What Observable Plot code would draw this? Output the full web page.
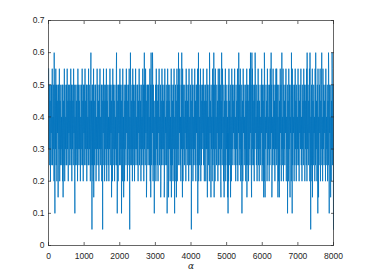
<!DOCTYPE html>
<html><head><meta charset="utf-8">
<script src="https://cdn.jsdelivr.net/npm/d3@7"></script>
<script src="https://cdn.jsdelivr.net/npm/@observablehq/plot@0.6"></script>
<style>body{margin:0;background:#fff;}</style>
</head><body><div id="chart"></div>
<script>
// x spacing of the base samples (data units)
const xStep = 10;
// base samples of the noisy series, read as the per-column envelope of the band
const baseValues = [
.55,.3,.5,.25,.45,.2,.5,.35,.5,.25,.55,.25,.4,.3,.5,.2,.45,.25,.5,.3,.55,.25,.5,.2,.45,.35,.5,.25,.5,.3,.55,.2,.45,.25,.5,.3,.4,.25,.5,.2,
.5,.3,.45,.25,.55,.2,.5,.3,.4,.25,.5,.25,.55,.3,.45,.2,.5,.35,.5,.25,.45,.3,.55,.25,.5,.2,.5,.3,.45,.25,.55,.35,.5,.2,.4,.25,.5,.3,.45,.25,
.5,.2,.55,.3,.5,.25,.45,.3,.5,.2,.4,.25,.5,.3,.55,.25,.45,.2,.5,.35,.5,.25,.55,.3,.45,.25,.5,.2,.5,.3,.4,.25,.55,.25,.5,.3,.45,.2,.5,.25,
.45,.3,.5,.25,.5,.2,.55,.35,.45,.25,.5,.3,.5,.2,.4,.25,.55,.3,.5,.25,.45,.2,.5,.3,.55,.25,.4,.3,.5,.2,.5,.25,.45,.35,.55,.25,.5,.2,.45,.3,
.5,.25,.55,.2,.45,.3,.5,.25,.4,.2,.5,.3,.55,.25,.5,.35,.45,.25,.5,.2,.55,.3,.5,.25,.45,.2,.5,.3,.4,.25,.55,.25,.5,.3,.45,.2,.5,.35,.5,.25,
.55,.25,.5,.3,.45,.25,.5,.2,.55,.3,.4,.25,.5,.2,.45,.3,.5,.25,.55,.35,.5,.2,.45,.25,.5,.3,.55,.2,.4,.25,.5,.3,.45,.25,.5,.2,.55,.3,.5,.25,
.45,.2,.5,.3,.55,.25,.4,.3,.5,.25,.5,.2,.45,.35,.55,.25,.5,.3,.45,.2,.5,.25,.4,.3,.55,.25,.5,.2,.45,.3,.5,.25,.55,.35,.45,.2,.5,.3,.5,.25,
.5,.3,.4,.25,.55,.2,.5,.3,.45,.25,.5,.35,.55,.2,.5,.25,.45,.3,.4,.25,.5,.2,.55,.3,.5,.25,.45,.2,.5,.35,.55,.25,.4,.3,.5,.2,.45,.25,.55,.3,
.5,.25,.45,.3,.5,.2,.55,.25,.4,.35,.5,.25,.45,.2,.55,.3,.5,.25,.45,.3,.5,.2,.4,.25,.55,.3,.5,.25,.45,.2,.5,.3,.55,.25,.4,.2,.5,.3,.45,.25,
.55,.2,.5,.3,.45,.25,.5,.35,.55,.25,.4,.2,.5,.3,.45,.25,.55,.2,.5,.3,.4,.25,.5,.35,.45,.2,.55,.3,.5,.25,.45,.3,.5,.2,.55,.25,.4,.3,.5,.25,
.45,.25,.55,.3,.5,.2,.4,.25,.5,.3,.55,.25,.45,.2,.5,.35,.5,.25,.55,.3,.45,.2,.5,.25,.4,.3,.55,.2,.5,.25,.45,.3,.5,.35,.55,.25,.5,.2,.45,.3,
.5,.2,.45,.3,.55,.25,.5,.3,.4,.25,.5,.2,.55,.35,.45,.25,.5,.3,.4,.2,.55,.25,.5,.3,.45,.25,.5,.2,.55,.3,.4,.25,.5,.35,.45,.2,.55,.25,.5,.3,
.55,.25,.5,.2,.45,.3,.5,.25,.55,.35,.4,.2,.5,.3,.45,.25,.55,.2,.5,.3,.45,.25,.4,.35,.5,.2,.55,.25,.45,.3,.5,.25,.4,.2,.55,.3,.5,.25,.45,.35,
.5,.3,.55,.25,.4,.2,.5,.3,.45,.25,.55,.2,.5,.35,.45,.25,.5,.3,.55,.2,.4,.25,.5,.3,.45,.2,.55,.35,.5,.25,.4,.3,.5,.2,.45,.25,.55,.3,.5,.25,
.45,.2,.5,.3,.55,.25,.45,.35,.5,.2,.4,.25,.55,.3,.5,.25,.45,.2,.5,.3,.55,.35,.4,.25,.5,.2,.45,.3,.55,.25,.5,.2,.45,.3,.4,.25,.5,.35,.55,.2,
.5,.25,.45,.3,.5,.2,.55,.25,.4,.3,.5,.35,.45,.2,.55,.25,.5,.3,.4,.2,.5,.25,.55,.3,.45,.35,.5,.2,.4,.25,.55,.3,.5,.25,.45,.2,.5,.3,.55,.25,
.55,.3,.5,.25,.4,.2,.5,.3,.45,.25,.55,.35,.5,.2,.45,.3,.4,.25,.55,.2,.5,.3,.45,.25,.5,.35,.55,.2,.4,.3,.5,.25,.45,.2,.55,.3,.5,.25,.4,.35,
.5,.2,.45,.3,.55,.25,.5,.35,.4,.2,.5,.25,.55,.3,.45,.2,.5,.25,.4,.3,.55,.25,.5,.2,.45,.35,.5,.3,.55,.25,.4,.2,.5,.3,.45,.25,.55,.35,.5,.2,
.45,.3,.5,.25,.55,.2,.4,.3,.5,.25,.45,.35,.55,.2,.5,.3,.4,.25,.5,.2,.55,.3,.45,.25,.5,.35,.4,.2,.55,.25,.5,.3,.45,.2,.5,.25,.55,.3,.4,.25,
.5,.35,.55,.2,.45,.3,.5,.25,.4,.2,.55,.3,.5,.25,.45,.35,.5,.2,.55,.25,.4,.3,.5,.2,.45,.25,.55,.3,.5,.35,.4,.25,.5,.2,.45,.3,.55,.25,.5,.3
];
// isolated excursions
const peakX = [160,1190,1910,2300,2690,2880,2920,3650,3740,4210,4520,4640,4860,5340,5670,5710,5800,6060,6250,6550,6820,7260,7340,7500,7670,7860,7960];
const peakY = peakX.map(() => 0.6);
const dipX = [
  1220,1520,2280,4010,7360,8000,
  180,740,1930,2050,2970,3330,3540,4190,5040,5430,6710,6840,7560,7880,
  270,410,1270,1770,2110,2750,2870,3150,3250,3370,3450,3590,3760,4460,4560,4650,4840,4930,5030,5110,5570,5700,6040,6080,6270,6440,6480,6780,7410,7580,7920
];
const dipY = [
  .05,.05,.05,.05,.05,.05,
  .1,.1,.1,.1,.1,.1,.1,.1,.1,.1,.1,.1,.1,.1,
  .15,.15,.15,.15,.15,.15,.15,.15,.15,.15,.15,.15,.15,.15,.15,.15,.15,.15,.15,.15,.15,.15,.15,.15,.15,.15,.15,.15,.15,.15,.15
];
const xTicks = [0,1000,2000,3000,4000,5000,6000,7000,8000];
const yTicks = [0,0.1,0.2,0.3,0.4,0.5,0.6,0.7];
const xLabel = "α";

const series = baseValues.map((v, i) => ({x: i * xStep + 5, y: v}))
  .concat(peakX.map((x, i) => ({x, y: peakY[i]})))
  .concat(dipX.map((x, i) => ({x, y: dipY[i]})))
  .sort((a, b) => a.x - b.x);

const axisColor = "#262626";
const chart = Plot.plot({
  width: 368, height: 276,
  marginLeft: 48, marginRight: 35, marginTop: 20, marginBottom: 31,
  style: {fontFamily: "'Liberation Sans', Arial, sans-serif", fontSize: "8.5px", color: axisColor, background: "#fff"},
  x: {domain: [0, 8000]},
  y: {domain: [0, 0.7]},
  marks: [
    Plot.lineY(series, {x: "x", y: "y", stroke: "#0072BD", strokeWidth: 0.8}),
    Plot.frame({stroke: axisColor, strokeWidth: 0.7}),
    Plot.axisX(xTicks, {anchor: "bottom", tickSize: -3, tickPadding: 10.5, tickFormat: d => String(d), label: null, stroke: axisColor, strokeWidth: 0.7}),
    Plot.axisX(xTicks, {anchor: "top", tickSize: -3, tickFormat: () => null, label: null, stroke: axisColor, strokeWidth: 0.7}),
    Plot.axisY(yTicks, {anchor: "left", tickSize: -3, tickPadding: 7, tickFormat: d => String(d), label: null, stroke: axisColor, strokeWidth: 0.7}),
    Plot.axisY(yTicks, {anchor: "right", tickSize: -3, tickFormat: () => null, label: null, stroke: axisColor, strokeWidth: 0.7}),
    Plot.text([xLabel], {frameAnchor: "bottom", dy: 23, fontStyle: "italic", fontFamily: "'DejaVu Serif', serif", fontSize: 9, fill: axisColor})
  ]
});
document.getElementById("chart").appendChild(chart);
</script>
</body></html>
